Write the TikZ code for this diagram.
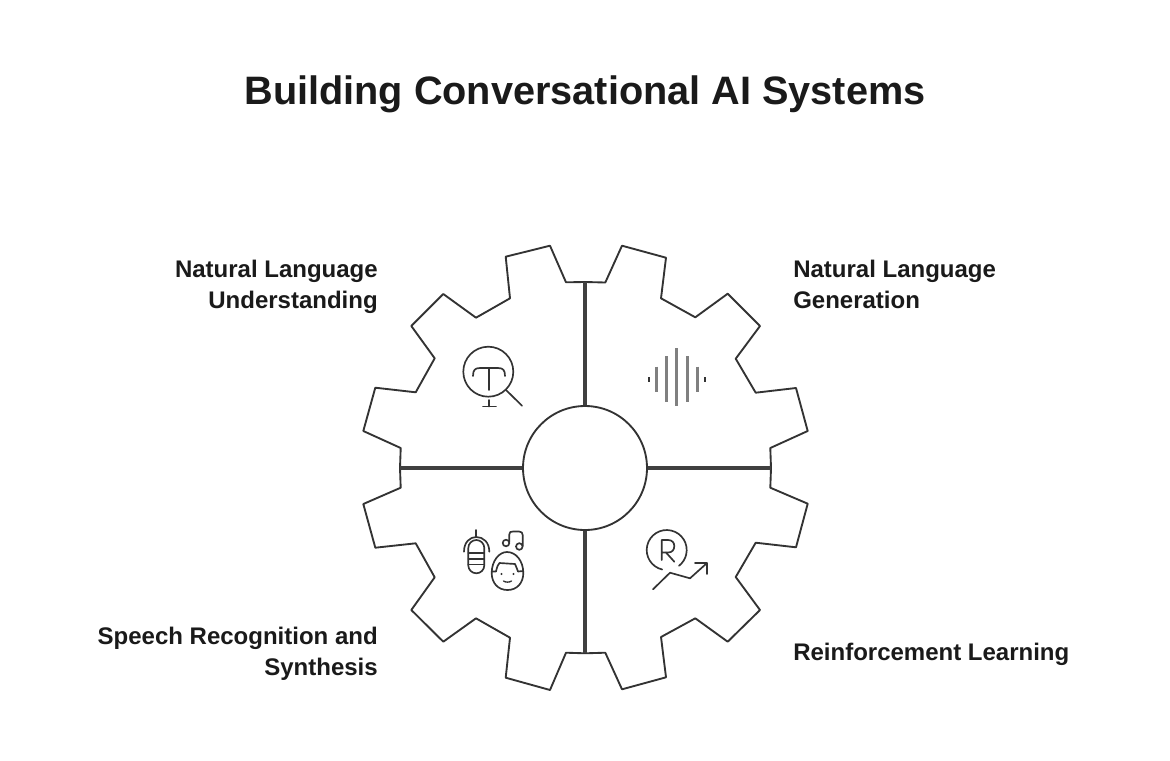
\documentclass[tikz,border=0pt]{standalone}
\usepackage{fontspec}
\setmainfont{Liberation Sans}
\definecolor{ink}{HTML}{1A1A1A}
\definecolor{edge}{HTML}{333333}
\definecolor{rule}{HTML}{404040}
\definecolor{wave}{HTML}{808080}
\tikzset{
  gearline/.style={draw=edge,line width=1.4pt,line join=round},
  divider/.style={draw=rule,line width=2.4pt},
  icon/.style={draw=edge,line width=1.25pt,line cap=round,line join=round},
  thin icon/.style={draw=edge,line width=1pt,line cap=round,line join=round},
  wavebar/.style={draw=wave,line width=2.25pt},
  wavedot/.style={draw=edge,line width=1.6pt},
  title/.style={font=\bfseries\fontsize{29.75}{34}\selectfont,text=ink,inner sep=0pt},
  label/.style={font=\bfseries\fontsize{18}{23.25}\selectfont,text=ink,inner sep=0pt},
}
\begin{document}
\begin{tikzpicture}[x=0.75pt,y=-0.75pt]
\useasboundingbox[fill=white] (0,0) rectangle (1170,760);
\node[title] (t) at (585,94) {Building Conversational AI Systems};
\node[label,align=right,anchor=east] (nlu) at (378,287) {Natural Language\\Understanding};
\node[label,align=left,anchor=west] (nlg) at (793,284) {Natural Language\\Generation};
\node[label,align=right,anchor=east] (srs) at (378,654) {Speech Recognition and\\Synthesis};
\node[label,align=left,anchor=west] (rl) at (793,654) {Reinforcement Learning};
% gear outline
\draw[gearline]
 (585,282)--(605.3,282.5)--(622,245.7)--(666,257.7)--(661,298.3)--(695.3,317.3)--(727.7,293.7)--(760,326)--(735.7,358.7)--(755.7,392.7)--(796,388)--(807.7,431)--(770.3,448)--(771,468)
 --(770.3,487.7)--(807.7,503.7)--(796,547.3)--(755.7,542.7)--(735.7,577)--(760,610)--(727.7,641.7)--(695.3,618.3)--(661,637)--(666,677.3)--(622,689.3)--(605.3,652.7)--(585,653.3)
 --(566,652.7)--(550,690)--(505.7,677.7)--(510,637.7)--(476,618.3)--(443.3,641.7)--(411.3,610)--(434.7,577.3)--(415.7,543.3)--(375.3,547.7)--(363.3,504)--(400.7,487.7)--(400,468)
 --(400.7,448)--(363.3,431)--(375.3,387.7)--(415.7,392.3)--(434.7,358.3)--(411.3,326)--(443.3,294)--(476,317.7)--(510,298.3)--(505.7,256.7)--(550,245.7)--(566,282.3)--cycle;
% hub and dividers
\node[circle,draw=edge,line width=1.4pt,minimum size=93pt,inner sep=0pt] (hub) at (585,468) {};
\coordinate (gN) at (585,282);
\coordinate (gS) at (585,653.3);
\coordinate (gW) at (400,468);
\coordinate (gE) at (771,468);
\draw[divider] (hub.north)--(gN);
\draw[divider] (hub.south)--(gS);
\draw[divider] (hub.west)--(gW);
\draw[divider] (hub.east)--(gE);
% icon: magnifier T
\draw[icon] (488.3,371.7) circle (25);
\draw[icon] (473,376) .. controls (473,370) and (475,368) .. (480,368) -- (498,368) .. controls (503,368) and (505,370) .. (505,376);
\draw[icon] (489.3,368)--(489.3,390);
\draw[icon] (489.3,400)--(489.3,406.5);
\draw[icon] (483,406.5)--(496,406.5);
\draw[icon] (506,390)--(522,405.7);
% icon: sound wave
\foreach \xa/\ya/\yb in {656.5/366.7/392.3,666.5/356/402,676.5/348.3/405.7,687.5/356/402,697.5/366.7/392.3}
  \draw[wavebar] (\xa,\ya)--(\xa,\yb);
\draw[wavedot] (648.7,377)--(648.7,381.7);
\draw[wavedot] (704.7,377)--(704.7,381.7);
% icon: mic, note, face
\draw[icon] (468.3,548) arc (180:360:8) -- (484.3,565.3) arc (0:180:8) -- cycle;
\draw[thin icon] (468.3,553)--(484.3,553);
\draw[thin icon] (468.3,559)--(484.3,559);
\draw[thin icon] (468.3,564.5)--(484.3,564.5);
\draw[icon] (464,551.7) .. controls (464,542) and (470,537) .. (476.3,537) .. controls (483,537) and (489.3,542) .. (489.3,551.7);
\draw[icon] (476.3,530)--(476.3,537);
\draw[icon] (491.7,573) .. controls (491.7,583) and (498,590) .. (507.5,590) .. controls (517,590) and (523.3,583) .. (523.3,573) .. controls (523.3,561) and (516,552) .. (507,552) .. controls (499,552) and (491.7,561) .. (491.7,573) -- cycle;
\draw[icon] (491.7,571.5)--(496,571.5) .. controls (497,567) and (498,564) .. (499.5,563) -- (515,564) .. controls (516,566) and (517,569) .. (518,571.5) -- (523.3,571);
\fill[edge] (501.5,574) circle (1.2) (513.5,574) circle (1.2);
\draw[thin icon] (503.5,581) .. controls (505.5,582.5) and (509.5,582.5) .. (511.5,581);
\draw[icon] (506,543) circle (3.3) (519.3,546.5) circle (3.3);
\draw[icon] (509.3,542)--(509.3,534.5) .. controls (509.3,532) and (510.5,531.5) .. (513,531.5) -- (519,531.5) .. controls (521.7,531.5) and (522.7,533) .. (522.7,535)--(522.7,546);
% icon: R with rising arrow
\draw[icon] (662.2,569.5) arc[start angle=103,end angle=412,radius=20];
\draw[icon] (661.7,560)--(661.7,540)--(668,540) .. controls (672,540) and (674.3,542.5) .. (674.3,546) .. controls (674.3,550) and (672,552.5) .. (668,552.5)--(661.7,552.5);
\draw[icon] (666,552.5)--(674.3,561.7);
\draw[icon] (653,589.3)--(670,572.7)--(690,578.3)--(706.7,563.3);
\draw[icon] (695,563.3)--(706.7,563.3)--(706.7,574);
\end{tikzpicture}
\end{document}
